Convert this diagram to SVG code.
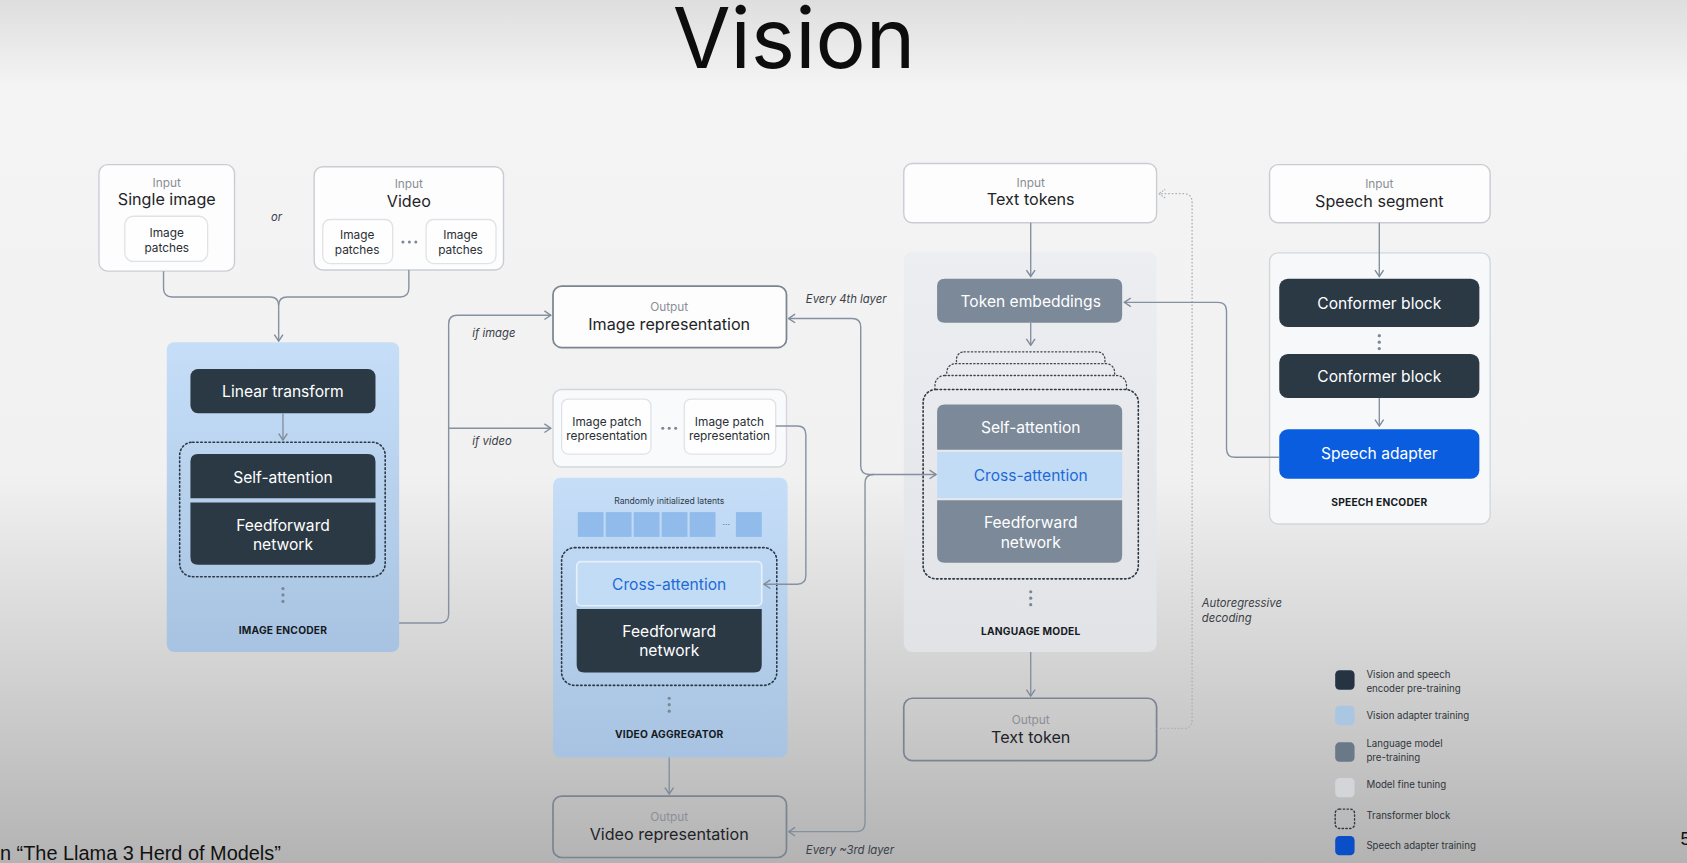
<svg xmlns="http://www.w3.org/2000/svg" width="1687" height="863" viewBox="0 0 1687 863">
<defs>
<linearGradient id="bg" x1="0" y1="0" x2="0" y2="1">
<stop offset="0" stop-color="#dedede"/>
<stop offset="0.1" stop-color="#f4f4f4"/>
<stop offset="0.55" stop-color="#f1f1f1"/>
<stop offset="1" stop-color="#b3b3b3"/>
</linearGradient>
<linearGradient id="blueP" x1="0" y1="0" x2="0" y2="1">
<stop offset="0" stop-color="#c6def8"/>
<stop offset="1" stop-color="#a7c3e1"/>
</linearGradient>
<linearGradient id="lmP" gradientUnits="userSpaceOnUse" x1="0" y1="234" x2="0" y2="606">
<stop offset="0" stop-color="#eceef1"/>
<stop offset="1" stop-color="#e1e3e7"/>
</linearGradient>
<marker id="ar" viewBox="0 0 8 10" refX="7" refY="5" markerWidth="8" markerHeight="10" markerUnits="userSpaceOnUse" orient="auto">
<path d="M1,1 L7,5 L1,9" fill="none" stroke="#7f8b98" stroke-width="1.3"/>
</marker>
<marker id="ars" viewBox="0 0 8 10" refX="1" refY="5" markerWidth="8" markerHeight="10" markerUnits="userSpaceOnUse" orient="auto">
<path d="M7,1 L1,5 L7,9" fill="none" stroke="#7f8b98" stroke-width="1.3"/>
</marker>
<marker id="ard" viewBox="0 0 8 10" refX="7" refY="5" markerWidth="8" markerHeight="10" markerUnits="userSpaceOnUse" orient="auto">
<path d="M1,1 L7,5 L1,9" fill="none" stroke="#a9b0b8" stroke-width="1.1" stroke-dasharray="1.5 1.2"/>
</marker>
</defs>
<style>
text{font-family:Inter,"Noto Sans","Liberation Sans",sans-serif;text-anchor:middle}
.in{fill:#fdfdfd;stroke:#c9cdd3;stroke-width:1.3}
.out{fill:none;stroke:#7a8591;stroke-width:1.6}
.inner{fill:#fefefe;stroke:#dfe2e6;stroke-width:1.2}
.sm{font-size:11px;fill:#8a8f96}
.lg{font-size:15px;fill:#1f2428}
.ip{font-size:11px;fill:#2a2f35}
.dk{fill:#2b3945}
.sl{fill:#7b8999}
.lb{fill:#c3dcf6}
.wt{font-size:14.5px;fill:#ffffff}
.bt{font-size:14.5px;fill:#1d6ad6}
.cap{font-size:9.5px;font-weight:700;fill:#151a1f;letter-spacing:0.2px}
.it{font-size:10.5px;font-style:italic;fill:#3a4048;text-anchor:start}
.dot{fill:none;stroke:#2b3945;stroke-width:1.5;stroke-dasharray:1.4 2.4;stroke-linecap:round}
.dotl{fill:url(#lmP);stroke:#3d4650;stroke-width:1.2;stroke-dasharray:1.2 2.2;stroke-linecap:round}
.vd{fill:#7b8794}
.lgd{font-size:9px;fill:#2f353b;text-anchor:start}
.c{fill:none;stroke:#8591a0;stroke-width:1.3}
</style>
<g transform="scale(1.0759)">
<rect x="0" y="0" width="1568" height="803" fill="url(#bg)"/>
<text x="738" y="63" style="font-size:78px;fill:#0d0d0d;font-family:Inter,'Noto Sans',sans-serif">Vision</text>

<g id="labels">
<text x="257" y="205" class="it" style="text-anchor:middle">or</text>
<text x="439" y="313" class="it">if image</text>
<text x="439" y="414" class="it">if video</text>
<text x="749" y="282" class="it">Every 4th layer</text>
<text x="749" y="794" class="it">Every ~3rd layer</text>
<text x="1117" y="564" class="it">Autoregressive</text>
<text x="1117" y="578" class="it">decoding</text>
</g>

<g id="input-single-image">
<rect class="in" x="92" y="153" width="126" height="99" rx="8"/>
<text x="155" y="174" class="sm">Input</text>
<text x="155" y="191" class="lg">Single image</text>
<rect class="inner" x="116" y="201" width="77" height="42" rx="8"/>
<text x="155" y="220" class="ip">Image</text>
<text x="155" y="234" class="ip">patches</text>
</g>

<g id="input-video">
<rect class="in" x="292" y="155" width="176" height="96" rx="8"/>
<text x="380" y="175" class="sm">Input</text>
<text x="380" y="192" class="lg">Video</text>
<rect class="inner" x="300" y="204" width="65" height="41" rx="7"/>
<text x="332" y="222" class="ip">Image</text>
<text x="332" y="236" class="ip">patches</text>
<g class="vd"><circle cx="374.5" cy="225" r="1.4"/><circle cx="380.5" cy="225" r="1.4"/><circle cx="386.5" cy="225" r="1.4"/></g>
<rect class="inner" x="396" y="204" width="65" height="41" rx="7"/>
<text x="428" y="222" class="ip">Image</text>
<text x="428" y="236" class="ip">patches</text>
</g>

<g id="image-encoder">
<rect x="155" y="318" width="216" height="288" rx="7" fill="url(#blueP)"/>
<rect class="dk" x="177" y="343" width="172" height="41" rx="7"/>
<text x="263" y="369" class="wt">Linear transform</text>
<rect class="dot" x="167" y="411" width="191" height="125" rx="12"/>
<path class="dk" d="M177,463 V429 Q177,422 184,422 H342 Q349,422 349,429 V463 Z"/>
<text x="263" y="449" class="wt">Self-attention</text>
<path class="dk" d="M177,467 H349 V518 Q349,525 342,525 H184 Q177,525 177,518 Z"/>
<text x="263" y="494" class="wt">Feedforward</text>
<text x="263" y="511" class="wt">network</text>
<g class="vd"><circle cx="263" cy="547" r="1.5"/><circle cx="263" cy="553" r="1.5"/><circle cx="263" cy="559" r="1.5"/></g>
<text x="263" y="589" class="cap">IMAGE ENCODER</text>
</g>

<g id="output-image-representation">
<rect class="out" x="514" y="266" width="217" height="57" rx="8" style="fill:#fdfdfd"/>
<text x="622" y="289" class="sm">Output</text>
<text x="622" y="307" class="lg">Image representation</text>
</g>

<g id="image-patch-representations">
<rect x="514" y="362" width="217" height="72" rx="8" fill="#f9fafb" stroke="#d3d7dc" stroke-width="1.3"/>
<rect class="inner" x="522" y="371" width="83" height="51" rx="6"/>
<text x="564" y="396" class="ip">Image patch</text>
<text x="564" y="409" class="ip">representation</text>
<g class="vd"><circle cx="616" cy="398" r="1.4"/><circle cx="622" cy="398" r="1.4"/><circle cx="628" cy="398" r="1.4"/></g>
<rect class="inner" x="636" y="371" width="85" height="51" rx="6"/>
<text x="678" y="396" class="ip">Image patch</text>
<text x="678" y="409" class="ip">representation</text>
</g>

<g id="video-aggregator">
<rect x="514" y="444" width="218" height="260" rx="7" fill="url(#blueP)"/>
<text x="622" y="468" style="font-size:8px;fill:#2f3a45">Randomly initialized latents</text>
<g fill="#90bbea">
<rect x="537" y="476" width="24" height="23"/>
<rect x="563" y="476" width="24" height="23"/>
<rect x="589" y="476" width="24" height="23"/>
<rect x="615" y="476" width="24" height="23"/>
<rect x="641" y="476" width="24" height="23"/>
<rect x="684" y="476" width="24" height="23"/>
</g>
<text x="675" y="490" style="font-size:8px;fill:#5a6f88">···</text>
<rect class="dot" x="522" y="509" width="200" height="128" rx="12"/>
<rect x="536" y="522" width="172" height="41" rx="4" fill="#c3dcf6" stroke="#e6f0fb" stroke-width="1.5"/>
<text x="622" y="548" class="bt">Cross-attention</text>
<path class="dk" d="M536,566 H708 V618 Q708,625 701,625 H543 Q536,625 536,618 Z"/>
<text x="622" y="592" class="wt">Feedforward</text>
<text x="622" y="610" class="wt">network</text>
<g class="vd"><circle cx="622" cy="649" r="1.5"/><circle cx="622" cy="655" r="1.5"/><circle cx="622" cy="661" r="1.5"/></g>
<text x="622" y="686" class="cap">VIDEO AGGREGATOR</text>
</g>

<g id="output-video-representation">
<rect class="out" x="514" y="740" width="217" height="57" rx="8"/>
<text x="622" y="763" class="sm">Output</text>
<text x="622" y="781" class="lg">Video representation</text>
</g>

<g id="input-text-tokens">
<rect class="in" x="840" y="152" width="235" height="55" rx="8"/>
<text x="958" y="174" class="sm">Input</text>
<text x="958" y="191" class="lg">Text tokens</text>
</g>

<g id="language-model">
<rect x="840" y="234" width="235" height="372" rx="8" fill="url(#lmP)"/>
<path class="sl" d="M871,266 Q871,259 878,259 H1036 Q1043,259 1043,266 V293 Q1043,300 1036,300 H878 Q871,300 871,293 Z"/>
<text x="958" y="285" class="wt">Token embeddings</text>
<rect class="dotl" x="889" y="327" width="138" height="60" rx="7"/>
<rect class="dotl" x="880" y="338" width="156" height="60" rx="8"/>
<rect class="dotl" x="869" y="349" width="178" height="60" rx="9"/>
<rect class="dot" x="858" y="362" width="200" height="176" rx="12" style="fill:url(#lmP)"/>
<path class="sl" d="M871,418 V383 Q871,376 878,376 H1036 Q1043,376 1043,383 V418 Z"/>
<text x="958" y="402" class="wt">Self-attention</text>
<rect class="lb" x="871" y="420" width="172" height="43"/>
<text x="958" y="447" class="bt">Cross-attention</text>
<path class="sl" d="M871,465 H1043 V516 Q1043,523 1036,523 H878 Q871,523 871,516 Z"/>
<text x="958" y="491" class="wt">Feedforward</text>
<text x="958" y="509" class="wt">network</text>
<g class="vd"><circle cx="958" cy="550" r="1.5"/><circle cx="958" cy="556" r="1.5"/><circle cx="958" cy="562" r="1.5"/></g>
<text x="958" y="590" class="cap">LANGUAGE MODEL</text>
</g>

<g id="output-text-token">
<rect class="out" x="840" y="649" width="235" height="58" rx="8"/>
<text x="958" y="673" class="sm">Output</text>
<text x="958" y="691" class="lg">Text token</text>
</g>

<g id="input-speech-segment">
<rect class="in" x="1180" y="153" width="205" height="54" rx="8"/>
<text x="1282" y="175" class="sm">Input</text>
<text x="1282" y="192" class="lg">Speech segment</text>
</g>

<g id="speech-encoder">
<rect x="1180" y="235" width="205" height="252" rx="8" fill="#f7f8f9" stroke="#d3d7dc" stroke-width="1.3"/>
<rect class="dk" x="1189" y="259" width="186" height="45" rx="8"/>
<text x="1282" y="287" class="wt">Conformer block</text>
<g class="vd"><circle cx="1282" cy="312" r="1.5"/><circle cx="1282" cy="318" r="1.5"/><circle cx="1282" cy="324" r="1.5"/></g>
<rect class="dk" x="1189" y="329" width="186" height="41" rx="8"/>
<text x="1282" y="355" class="wt">Conformer block</text>
<rect x="1189" y="399" width="186" height="46" rx="8" fill="#0a5ddf"/>
<text x="1282" y="427" class="wt">Speech adapter</text>
<text x="1282" y="470" class="cap">SPEECH ENCODER</text>
</g>

<g id="connectors">
<path class="c" d="M152,252 V268 Q152,276 160,276 H251 Q259,276 259,284"/>
<path class="c" d="M380,251 V268 Q380,276 372,276 H267 Q259,276 259,284 V317" marker-end="url(#ar)"/>
<path class="c" d="M263,384 V409" marker-end="url(#ar)"/>
<path class="c" d="M371,579 H409 Q417,579 417,571 V301 Q417,293 425,293 H512" marker-end="url(#ar)"/>
<path class="c" d="M417,398 H512" marker-end="url(#ar)"/>
<path class="c" d="M721,396 H741 Q749,396 749,404 V535 Q749,543 741,543 H710" marker-end="url(#ar)"/>
<path class="c" d="M733,296 H792 Q800,296 800,304 V433 Q800,441 808,441 H870" marker-start="url(#ars)" marker-end="url(#ar)"/>
<path class="c" d="M733,773 H796 Q804,773 804,765 V449 Q804,441 812,441" marker-start="url(#ars)"/>
<path class="c" d="M622,704 V738" marker-end="url(#ar)"/>
<path class="c" d="M958,207 V257" marker-end="url(#ar)"/>
<path class="c" d="M958,300 V321" marker-end="url(#ar)"/>
<path class="c" d="M958,606 V647" marker-end="url(#ar)"/>
<path d="M1075,677 H1100 Q1108,677 1108,669 V188 Q1108,180 1100,180 H1077" fill="none" stroke="#a9b0b8" stroke-width="1.2" stroke-dasharray="1.5 1.8" marker-end="url(#ard)"/>
<path class="c" d="M1282,207 V257" marker-end="url(#ar)"/>
<path class="c" d="M1282,370 V396" marker-end="url(#ar)"/>
<path class="c" d="M1189,425 H1148 Q1140,425 1140,417 V289 Q1140,281 1132,281 H1045" marker-end="url(#ar)"/>
</g>

<g id="legend">
<rect x="1241" y="623" width="18" height="18" rx="4" fill="#263340"/>
<text x="1270" y="630" class="lgd">Vision and speech</text>
<text x="1270" y="643" class="lgd">encoder pre-training</text>
<rect x="1241" y="656" width="18" height="18" rx="4" fill="#a9c6e3"/>
<text x="1270" y="668" class="lgd">Vision adapter training</text>
<rect x="1241" y="690" width="18" height="18" rx="4" fill="#6b7888"/>
<text x="1270" y="694" class="lgd">Language model</text>
<text x="1270" y="707" class="lgd">pre-training</text>
<rect x="1241" y="723" width="18" height="18" rx="4" fill="#d3d5d8"/>
<text x="1270" y="732" class="lgd">Model fine tuning</text>
<rect x="1241" y="752" width="18" height="18" rx="4" fill="none" stroke="#2b3945" stroke-width="1.3" stroke-dasharray="1.3 2.2" stroke-linecap="round"/>
<text x="1270" y="761" class="lgd">Transformer block</text>
<rect x="1241" y="777" width="18" height="18" rx="4" fill="#0a4fc8"/>
<text x="1270" y="789" class="lgd">Speech adapter training</text>
</g>

<text x="0" y="799" style="font-family:'Liberation Sans',Arial,sans-serif;font-size:18.5px;fill:#111;text-anchor:start">n “The Llama 3 Herd of Models”</text>
<text x="1562" y="785" style="font-family:'Liberation Sans',Arial,sans-serif;font-size:17px;fill:#111;text-anchor:start">5</text>
</g>
</svg>
